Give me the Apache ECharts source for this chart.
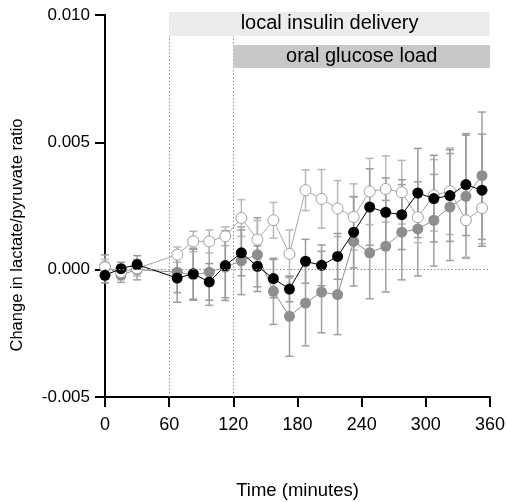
<!DOCTYPE html>
<html>
<head>
<meta charset="utf-8">
<script src="https://cdn.jsdelivr.net/npm/echarts@6/dist/echarts.min.js"></script>
<style>html,body{margin:0;padding:0;background:#fff}#c{width:507px;height:502px}</style>
</head>
<body>
<div id="c"></div>
<script>
var times = [0,15,30,67.5,82.5,97.5,112.5,127.5,142.5,157.5,172.5,187.5,202.5,217.5,232.5,247.5,262.5,277.5,292.5,307.5,322.5,337.5,352.5];
var xTicks = [0,60,120,180,240,300,360];
var yTicks = [-0.005,0,0.005,0.010];

var blackMean = [-0.00022,0.00004,0.00020,-0.00033,-0.00016,-0.00048,0.00016,0.00066,0.00013,-0.00035,-0.00076,0.00033,0.00017,0.00052,0.00147,0.00246,0.00225,0.00216,0.00301,0.00279,0.00291,0.00334,0.00312];
var blackErr  = [0.00030,0.00025,0.00035,0.00095,0.00100,0.00072,0.00137,0.00090,0.00080,0.00075,0.00050,0.00086,0.00080,0.00090,0.00140,0.00150,0.00135,0.00137,0.00175,0.00170,0.00180,0.00200,0.00220];
var grayMean  = [0.00013,-0.00020,0.00000,-0.00010,-0.00020,-0.00010,0.00010,0.00035,0.00059,-0.00085,-0.00183,-0.00131,-0.00088,-0.00098,0.00111,0.00066,0.00092,0.00147,0.00160,0.00194,0.00246,0.00288,0.00369];
var grayErr   = [0.00045,0.00030,0.00040,0.00080,0.00100,0.00130,0.00120,0.00133,0.00145,0.00130,0.00157,0.00168,0.00160,0.00157,0.00175,0.00180,0.00180,0.00187,0.00185,0.00180,0.00210,0.00240,0.00250];
var openMean  = [0.00010,-0.00010,0.00005,0.00059,0.00111,0.00111,0.00131,0.00203,0.00118,0.00194,0.00062,0.00312,0.00278,0.00240,0.00207,0.00307,0.00317,0.00304,0.00206,0.00292,0.00308,0.00194,0.00242];
var openErr   = [0.00030,0.00030,0.00030,0.00030,0.00040,0.00045,0.00037,0.00072,0.00075,0.00070,0.00094,0.00080,0.00115,0.00110,0.00130,0.00130,0.00130,0.00125,0.00100,0.00140,0.00170,0.00150,0.00140];

var periods = [
  {start:60, end:360, top:0.01012, bottom:0.00918, label:'local insulin delivery', fill:'#ececec'},
  {start:120, end:360, top:0.00882, bottom:0.00792, label:'oral glucose load', fill:'#c8c8c8'}
];

var yTitle = 'Change in lactate/pyruvate ratio';
var xTitle = 'Time (minutes)';

var FONT = '"Liberation Sans", Arial, Helvetica, sans-serif';

function pairs(m){ return times.map(function(t,i){ return [t, m[i]]; }); }
function triples(m,e){ return times.map(function(t,i){ return [t, m[i], e[i]]; }); }

function errSeries(m, e, color, z){
  return {
    type:'custom', z:z, silent:true, clip:false,
    data: triples(m,e),
    renderItem: function(params, api){
      var x = api.value(0), y = api.value(1), er = api.value(2);
      var hi = api.coord([x, y+er]), lo = api.coord([x, y-er]);
      var w = 4;
      var st = {stroke:color, lineWidth:1.5};
      return {type:'group', children:[
        {type:'line', shape:{x1:hi[0],y1:hi[1],x2:lo[0],y2:lo[1]}, style:st},
        {type:'line', shape:{x1:hi[0]-w,y1:hi[1],x2:hi[0]+w,y2:hi[1]}, style:st},
        {type:'line', shape:{x1:lo[0]-w,y1:lo[1],x2:lo[0]+w,y2:lo[1]}, style:st}
      ]};
    }
  };
}

var chart = echarts.init(document.getElementById('c'), null, {renderer:'canvas'});
chart.setOption({
  animation:false,
  backgroundColor:'#fff',
  grid:{left:105, right:17, top:15, bottom:105, containLabel:false, outerBoundsMode:'none'},
  graphic:[{
    type:'text', x:17, y:235, rotation:Math.PI/2, silent:true,
    style:{text:yTitle, align:'center', verticalAlign:'middle', font:'16.5px ' + FONT, fill:'#000'}
  }],
  xAxis:{
    type:'value', min:0, max:360, interval:60,
    name:xTitle, nameLocation:'middle', nameGap:84,
    nameTextStyle:{fontFamily:FONT, fontSize:18.5, color:'#000'},
    axisLine:{show:true, onZero:false, lineStyle:{color:'#000', width:2}},
    axisLabel:{fontFamily:FONT, fontSize:18, color:'#000', margin:19,
      customValues: xTicks},
    axisTick:{show:true, length:10, lineStyle:{color:'#000', width:2}, customValues: xTicks},
    splitLine:{show:false}
  },
  yAxis:{
    type:'value', min:-0.005, max:0.010, interval:0.005,
    axisLine:{show:true, onZero:false, lineStyle:{color:'#000', width:2}},
    axisTick:{show:true, length:10, lineStyle:{color:'#000', width:2}},
    axisLabel:{fontFamily:FONT, fontSize:17, color:'#000', margin:15,
      formatter:function(v){ return (Math.abs(v)<1e-9?0:v).toFixed(3); }},
    splitLine:{show:false}
  },
  series:[
    {
      type:'line', data:[], z:1, silent:true,
      markLine:{
        silent:true, symbol:['none','none'], label:{show:false},
        lineStyle:{color:'#8a8a8a', type:[1.5,2], width:1},
        data:[{xAxis:60},{xAxis:120},{yAxis:0}]
      }
    },
    {
      type:'custom', z:5, silent:true, clip:false,
      data: periods.map(function(p){ return [p.start, p.end, p.top, p.bottom]; }),
      renderItem:function(params, api){
        var p = periods[params.dataIndex];
        var a = api.coord([api.value(0), api.value(2)]);
        var b = api.coord([api.value(1), api.value(3)]);
        return {type:'group', children:[
          {type:'rect', shape:{x:a[0], y:a[1], width:b[0]-a[0], height:b[1]-a[1]}, style:{fill:p.fill}},
          {type:'text', style:{text:p.label, x:(a[0]+b[0])/2, y:(a[1]+b[1])/2, align:'center', verticalAlign:'middle',
            font:'20px ' + FONT, fill:'#000'}}
        ]};
      }
    },
    errSeries(grayMean, grayErr, '#a0a0a0', 2),
    errSeries(openMean, openErr, '#b8b8b8', 2),
    errSeries(blackMean, blackErr, '#9a9a9a', 2),
    {
      type:'line', data:pairs(grayMean), z:3, symbol:'circle', symbolSize:11, showSymbol:true,
      lineStyle:{color:'#8e8e8e', width:1}, itemStyle:{color:'#8e8e8e'}, silent:true
    },
    {
      type:'line', data:pairs(openMean), z:3, symbol:'circle', symbolSize:11, showSymbol:true,
      lineStyle:{color:'#a8a8a8', width:1}, itemStyle:{color:'#fff', borderColor:'#a0a0a0', borderWidth:1}, silent:true
    },
    {
      type:'line', data:pairs(blackMean), z:4, symbol:'circle', symbolSize:11, showSymbol:true,
      lineStyle:{color:'#000', width:1}, itemStyle:{color:'#000'}, silent:true
    }
  ]
});
</script>
</body>
</html>
